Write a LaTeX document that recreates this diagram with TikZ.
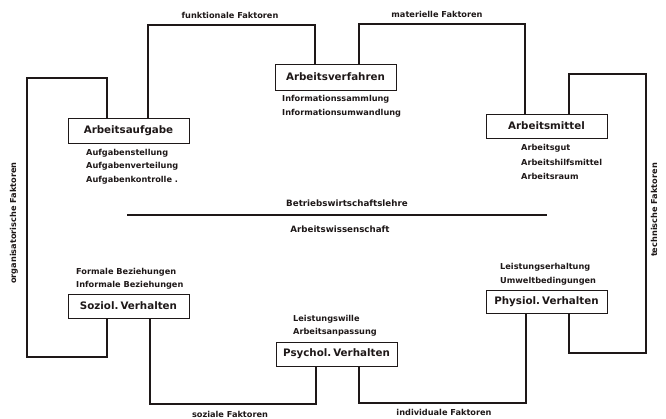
\documentclass[tikz,border=0pt]{standalone}
\usepackage{fontspec}
\setmainfont{DejaVu Sans}
\definecolor{ink}{RGB}{30,24,24}
\frenchspacing
\begin{document}
\begin{tikzpicture}[x=1pt,y=-1pt,
  every node/.style={text=ink, inner sep=0pt},
  box/.style={draw=ink, line width=0.9pt, minimum width=121pt, inner sep=0pt,
    font=\bfseries\fontsize{10.3}{12}\selectfont},
  sub/.style={anchor=west, font=\bfseries\fontsize{8.2}{10}\selectfont},
  lab/.style={font=\bfseries\fontsize{8.2}{10}\selectfont},
  mid/.style={font=\bfseries\fontsize{8.7}{10}\selectfont},
  conn/.style={draw=ink, line width=1.1pt, line join=miter}
]
\useasboundingbox (0,0) rectangle (666,419);

% boxes
\node[box, minimum height=25pt] (aufgabe) at (128.5,130.5) {Arbeitsaufgabe};
\node[box, minimum height=26pt] (verfahren) at (335.5,77) {Arbeitsverfahren};
\node[box, minimum height=24pt] (mittel) at (546.5,126) {Arbeitsmittel};
\node[box, minimum height=24pt] (soziol) at (128.5,306) {Soziol.\hspace{2pt}Verhalten};
\node[box, minimum height=24pt] (psychol) at (336.5,354) {Psychol.\hspace{2pt}Verhalten};
\node[box, minimum height=23pt] (physiol) at (546.5,301.5) {Physiol.\hspace{2pt}Verhalten};

% corner coordinates
\coordinate (fA) at (148,25);  \coordinate (fB) at (315,25);
\coordinate (mA) at (359,24);  \coordinate (mB) at (525,24);
\coordinate (oA) at (107,78);  \coordinate (oB) at (27,78);
\coordinate (oC) at (27,357);  \coordinate (oD) at (107,357);
\coordinate (sA) at (150,404); \coordinate (sB) at (316,404);
\coordinate (iA) at (359,403); \coordinate (iB) at (526,403);
\coordinate (tA) at (569,353); \coordinate (tB) at (646,353);
\coordinate (tC) at (646,74);  \coordinate (tD) at (569,74);
\coordinate (sepL) at (127,215); \coordinate (sepR) at (547,215);

% connectors
\draw[conn] (aufgabe.north -| fA) -- (fA) -- (fB) -- (verfahren.north -| fB);
\draw[conn] (verfahren.north -| mA) -- (mA) -- (mB) -- (mittel.north -| mB);
\draw[conn] (aufgabe.north -| oA) -- (oA) -- (oB) -- (oC) -- (oD) -- (soziol.south -| oD);
\draw[conn] (soziol.south -| sA) -- (sA) -- (sB) -- (psychol.south -| sB);
\draw[conn] (psychol.south -| iA) -- (iA) -- (iB) -- (physiol.south -| iB);
\draw[conn] (physiol.south -| tA) -- (tA) -- (tB) -- (tC) -- (tD) -- (mittel.north -| tD);
\draw[draw=ink, line width=1.4pt] (sepL) -- (sepR);

% factor labels
\node[lab] (lfunk) at (230,15) {funktionale Faktoren};
\node[lab] (lmat) at (437,14) {materielle Faktoren};
\node[lab] (lsoz) at (230,414) {soziale Faktoren};
\node[lab] (lind) at (444,412) {individuale Faktoren};
\node[lab, rotate=90] (lorg) at (14,223) {organisatorische Faktoren};
\node[lab, rotate=90] (ltech) at (654,210) {technische Faktoren};

% central labels
\node[mid] (bwl) at (347,203) {Betriebswirtschaftslehre};
\node[mid] (aws) at (340,229) {Arbeitswissenschaft};

% sub texts
\node[sub] (v1) at (282,99) {Informationssammlung};
\node[sub] (v2) at (282,113) {Informationsumwandlung};
\node[sub] (a1) at (86,153) {Aufgabenstellung};
\node[sub] (a2) at (86,166.5) {Aufgabenverteilung};
\node[sub] (a3) at (86,180) {Aufgabenkontrolle .};
\node[sub] (m1) at (521,148) {Arbeitsgut};
\node[sub] (m2) at (521,162) {Arbeitshilfsmittel};
\node[sub] (m3) at (521,176) {Arbeitsraum};
\node[sub] (s1) at (76,272) {Formale Beziehungen};
\node[sub] (s2) at (76,285) {Informale Beziehungen};
\node[sub] (p1) at (293,319) {Leistungswille};
\node[sub] (p2) at (293,332) {Arbeitsanpassung};
\node[sub] (h1) at (500,267) {Leistungserhaltung};
\node[sub] (h2) at (500,281) {Umweltbedingungen};
\end{tikzpicture}
\end{document}
